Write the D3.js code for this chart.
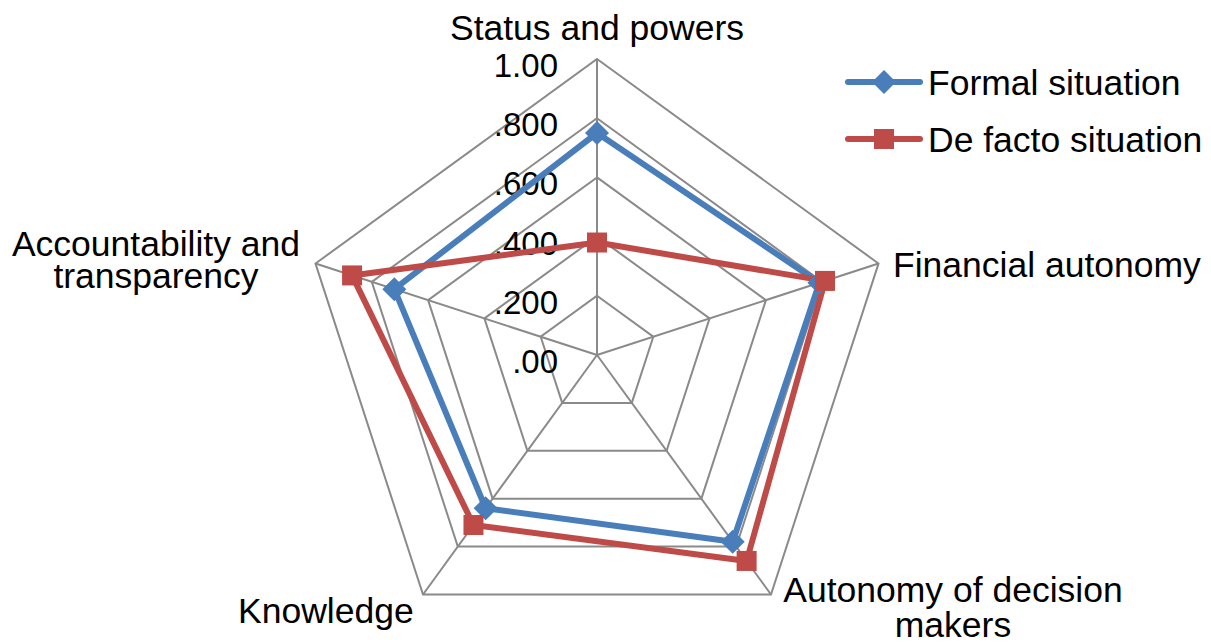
<!DOCTYPE html>
<html>
<head>
<meta charset="utf-8">
<script src="https://cdn.jsdelivr.net/npm/d3@7"></script>
<style>
  body { margin: 0; background: #fff; }
  svg text { font-family: "Liberation Sans", Arial, sans-serif; fill: #000; }
</style>
</head>
<body>
<div id="chart"></div>
<script>
// Chart data
const axes = ["Status and powers", "Financial autonomy", "Autonomy of decision makers", "Knowledge", "Accountability and transparency"];
const formal = [0.75, 0.79, 0.78, 0.64, 0.72];
const deFacto = [0.38, 0.81, 0.86, 0.71, 0.87];
const levels = [0, 0.2, 0.4, 0.6, 0.8, 1.0];
const levelLabels = [".00", ".200", ".400", ".600", ".800", "1.00"];
const seriesNames = ["Formal situation", "De facto situation"];

const width = 1211, height = 643;
const cx = 597, cy = 355, R = 296;

const svg = d3.select("#chart")
    .append("svg")
    .attr("width", width)
    .attr("height", height);

const g = svg.append("g").attr("transform", `translate(${cx},${cy})`);

const r = d3.scaleLinear().domain([0, 1]).range([0, R]);
const angle = d3.scalePoint().domain(d3.range(axes.length)).range([0, 2 * Math.PI * (axes.length - 1) / axes.length]);

const pt = (i, v) => [Math.sin(angle(i)) * r(v), -Math.cos(angle(i)) * r(v)];

// Grid pentagons
const radial = d3.lineRadial()
    .angle((d, i) => angle(i))
    .radius(d => r(d))
    .curve(d3.curveLinearClosed);

g.selectAll(".grid")
    .data(levels.slice(1))
    .enter().append("path")
    .attr("class", "grid")
    .attr("d", lv => radial(axes.map(() => lv)))
    .attr("fill", "none")
    .attr("stroke", "#8a8a8a")
    .attr("stroke-width", 2);

// Spokes
g.selectAll(".spoke")
    .data(axes)
    .enter().append("line")
    .attr("class", "spoke")
    .attr("x1", 0).attr("y1", 0)
    .attr("x2", (d, i) => pt(i, 1)[0])
    .attr("y2", (d, i) => pt(i, 1)[1])
    .attr("stroke", "#8a8a8a")
    .attr("stroke-width", 2);

// Level labels
g.selectAll(".lvl")
    .data(levels)
    .enter().append("text")
    .attr("class", "lvl")
    .attr("x", -39)
    .attr("y", d => -r(d) + 18)
    .attr("text-anchor", "end")
    .style("font-size", "33px")
    .text((d, i) => levelLabels[i]);

// Series
const series = [
    { name: seriesNames[0], values: formal, color: "#4a7ebb", marker: "diamond" },
    { name: seriesNames[1], values: deFacto, color: "#be4b48", marker: "square" }
];

series.forEach(s => {
    g.append("path")
        .attr("d", radial(s.values))
        .attr("fill", "none")
        .attr("stroke", s.color)
        .attr("stroke-width", 6)
        .attr("stroke-linejoin", "round");
});

function drawMarker(sel, s, x, y) {
    if (s.marker === "square") {
        sel.append("rect")
            .attr("x", x - 10).attr("y", y - 10)
            .attr("width", 20).attr("height", 20)
            .attr("fill", s.color);
    } else {
        sel.append("path")
            .attr("d", `M${x},${y - 12}L${x + 12},${y}L${x},${y + 12}L${x - 12},${y}Z`)
            .attr("fill", s.color);
    }
}

series.forEach(s => {
    s.values.forEach((v, i) => {
        const [x, y] = pt(i, v);
        drawMarker(g, s, x, y);
    });
});

// Axis labels
const axisLabels = [
    { lines: ["Status and powers"], x: 597, y: 40, anchor: "middle", lh: 0 },
    { lines: ["Financial autonomy"], x: 893, y: 277, anchor: "start", lh: 0 },
    { lines: ["Autonomy of decision", "makers"], x: 953, y: 602, anchor: "middle", lh: 35 },
    { lines: ["Knowledge"], x: 238, y: 623, anchor: "start", lh: 0 },
    { lines: ["Accountability and", "transparency"], x: 156, y: 256, anchor: "middle", lh: 32 }
];

axisLabels.forEach(l => {
    const t = svg.append("text")
        .attr("x", l.x).attr("y", l.y)
        .attr("text-anchor", l.anchor)
        .style("font-size", "35.5px");
    l.lines.forEach((line, i) => {
        t.append("tspan")
            .attr("x", l.x)
            .attr("dy", i === 0 ? 0 : l.lh)
            .text(line);
    });
});

// Legend
const legend = svg.append("g").attr("transform", "translate(848,82)");
series.forEach((s, i) => {
    const row = legend.append("g").attr("transform", `translate(0,${i * 57})`);
    row.append("line")
        .attr("x1", 0).attr("x2", 72)
        .attr("y1", 0).attr("y2", 0)
        .attr("stroke", s.color)
        .attr("stroke-width", 6)
        .attr("stroke-linecap", "round");
    drawMarker(row, s, 36, 0);
    row.append("text")
        .attr("x", 80).attr("y", 13)
        .style("font-size", "35.5px")
        .text(s.name);
});
</script>
</body>
</html>
